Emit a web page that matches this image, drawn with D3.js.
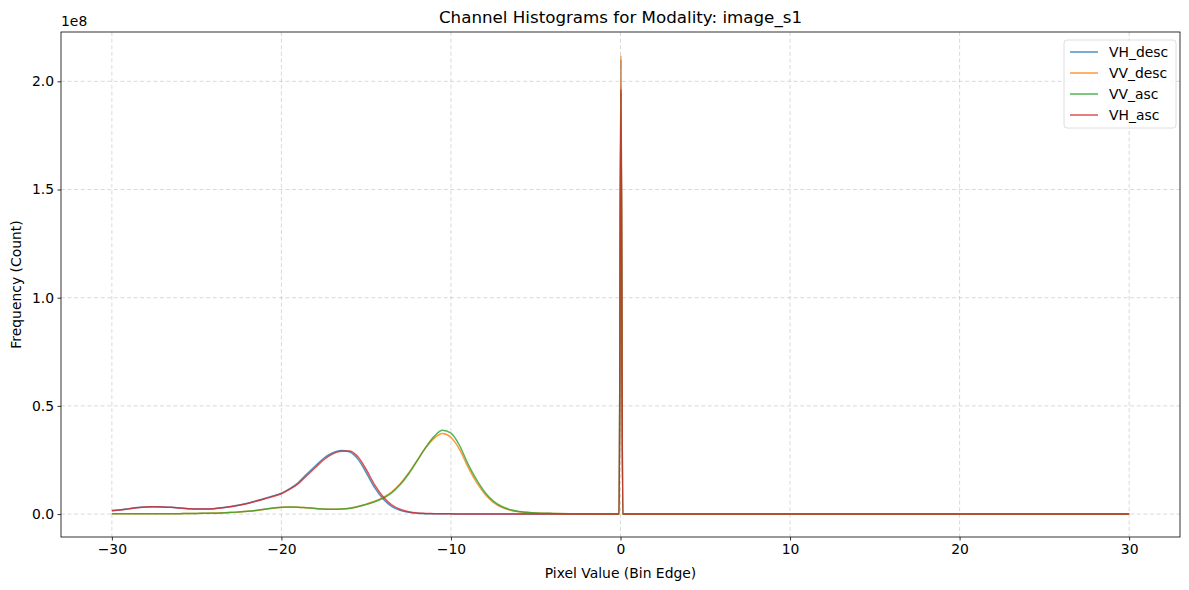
<!DOCTYPE html>
<html>
<head>
<meta charset="utf-8">
<script src="https://cdn.jsdelivr.net/npm/d3@7"></script>
<style>
  body { margin: 0; background: #fff; }
  svg { font-family: "DejaVu Sans", sans-serif; }
</style>
</head>
<body>
<div id="chart"></div>
<script>
// bin edges (pixel value) shared by all channels
const binEdges = [
  -30, -29.5, -29, -28.5, -28, -27.5, -27, -26.5, -26, -25.5,
  -25, -24.5, -24, -23.5, -23, -22.5, -22, -21.5, -21, -20.5,
  -20, -19.5, -19, -18.5, -18, -17.5, -17, -16.5, -16, -15.5,
  -15, -14.5, -14, -13.5, -13, -12.5, -12, -11.5, -11, -10.5,
  -10, -9.5, -9, -8.5, -8, -7.5, -7, -6.5, -6, -5.5,
  -5, -4, -3, -2, -1, -0.08, 0.025, 0.13, 1, 10, 20, 30
];

// counts in units of 1e8
const vhDesc = [
  0.016, 0.020, 0.025, 0.030, 0.033, 0.034, 0.033, 0.031, 0.028, 0.025,
  0.023, 0.023, 0.025, 0.029, 0.035, 0.042, 0.050, 0.061, 0.072, 0.084,
  0.097, 0.118, 0.146, 0.185, 0.222, 0.258, 0.282, 0.294, 0.288, 0.255,
  0.192, 0.122, 0.070, 0.036, 0.017, 0.008, 0.004, 0.002, 0.001, 0.001,
  0.001, 0.0005, 0.0005, 0.0003, 0.0003, 0.0002, 0.0002, 0.0001, 0.0001, 0.0001,
  0, 0, 0, 0, 0, 0, 2.10, 0, 0, 0, 0, 0
];
const vvDesc = [
  0.002, 0.002, 0.002, 0.002, 0.002, 0.002, 0.002, 0.002, 0.002, 0.003,
  0.003, 0.004, 0.005, 0.006, 0.008, 0.010, 0.013, 0.017, 0.022, 0.027,
  0.031, 0.033, 0.032, 0.029, 0.026, 0.023, 0.022, 0.023, 0.027, 0.035,
  0.046, 0.059, 0.077, 0.102, 0.140, 0.190, 0.248, 0.305, 0.350, 0.372,
  0.354, 0.300, 0.218, 0.148, 0.093, 0.054, 0.031, 0.018, 0.011, 0.007,
  0.005, 0.003, 0.002, 0.001, 0.0005, 0.0003, 2.12, 0, 0, 0, 0, 0
];
const vvAsc = [
  0.002, 0.002, 0.002, 0.002, 0.002, 0.002, 0.002, 0.002, 0.002, 0.003,
  0.003, 0.004, 0.004, 0.005, 0.007, 0.010, 0.013, 0.017, 0.022, 0.028,
  0.031, 0.033, 0.032, 0.029, 0.026, 0.023, 0.022, 0.023, 0.026, 0.034,
  0.044, 0.057, 0.073, 0.098, 0.135, 0.185, 0.245, 0.307, 0.358, 0.387,
  0.374, 0.318, 0.232, 0.160, 0.101, 0.060, 0.035, 0.020, 0.012, 0.008,
  0.005, 0.003, 0.002, 0.001, 0.0005, 0.0003, 1.95, 0, 0, 0, 0, 0
];
const vhAsc = [
  0.015, 0.019, 0.024, 0.029, 0.033, 0.034, 0.033, 0.031, 0.028, 0.025,
  0.023, 0.023, 0.025, 0.029, 0.034, 0.041, 0.049, 0.059, 0.070, 0.081,
  0.094, 0.115, 0.141, 0.178, 0.215, 0.251, 0.277, 0.290, 0.292, 0.266,
  0.206, 0.135, 0.080, 0.043, 0.022, 0.011, 0.005, 0.003, 0.002, 0.001,
  0.001, 0.0005, 0.0005, 0.0003, 0.0003, 0.0002, 0.0002, 0.0001, 0.0001, 0.0001,
  0, 0, 0, 0, 0, 0, 1.965, 0, 0, 0, 0, 0
];

const channelNames = ['VH_desc', 'VV_desc', 'VV_asc', 'VH_asc'];
const channelValues = [vhDesc, vvDesc, vvAsc, vhAsc];
const channelColors = ['#1f77b4', '#ff7f0e', '#2ca02c', '#d62728'];

const xTicks = [-30, -20, -10, 0, 10, 20, 30];
const yTicks = [0, 0.5, 1.0, 1.5, 2.0];

function createChart() {
    const W = 1189, H = 590;
    const margin = { top: 32, right: 9, bottom: 53, left: 61 };
    const width = W - margin.left - margin.right;
    const height = H - margin.top - margin.bottom;

    const svg = d3.select('#chart')
        .append('svg')
        .attr('width', W)
        .attr('height', H);

    const g = svg.append('g')
        .attr('transform', `translate(${margin.left}, ${margin.top})`);

    const xScale = d3.scaleLinear()
        .domain([-33, 33])
        .range([0, width]);

    const yScale = d3.scaleLinear()
        .domain([-0.106, 2.228])
        .range([height, 0]);

    // grid
    g.append('g').selectAll('line')
        .data(xTicks)
        .enter()
        .append('line')
        .attr('x1', d => xScale(d))
        .attr('x2', d => xScale(d))
        .attr('y1', 0)
        .attr('y2', height)
        .attr('stroke', '#b0b0b0')
        .attr('stroke-opacity', 0.6)
        .attr('stroke-width', 0.8)
        .attr('stroke-dasharray', '4,2.6');

    g.append('g').selectAll('line')
        .data(yTicks)
        .enter()
        .append('line')
        .attr('x1', 0)
        .attr('x2', width)
        .attr('y1', d => yScale(d))
        .attr('y2', d => yScale(d))
        .attr('stroke', '#b0b0b0')
        .attr('stroke-opacity', 0.6)
        .attr('stroke-width', 0.8)
        .attr('stroke-dasharray', '4,2.6');

    // lines
    const line = d3.line()
        .x(d => xScale(d[0]))
        .y(d => yScale(d[1]))
        .curve(d3.curveMonotoneX);

    channelValues.forEach((vals, i) => {
        const pts = binEdges.map((e, j) => [e, vals[j]]);
        g.append('path')
            .datum(pts)
            .attr('fill', 'none')
            .attr('stroke', channelColors[i])
            .attr('stroke-width', 1.5)
            .attr('stroke-opacity', 0.8)
            .attr('d', line);
    });

    // axes
    const xAxis = d3.axisBottom(xScale)
        .tickValues(xTicks)
        .tickSize(3.5)
        .tickPadding(3.5)
        .tickFormat(d => d < 0 ? '\u2212' + Math.abs(d) : d);
    const yAxis = d3.axisLeft(yScale)
        .tickValues(yTicks)
        .tickSize(3.5)
        .tickPadding(3.5)
        .tickFormat(d3.format('.1f'));

    const xg = g.append('g')
        .attr('transform', `translate(0, ${height})`)
        .call(xAxis);
    const yg = g.append('g').call(yAxis);

    [xg, yg].forEach(a => {
        a.select('.domain').remove();
        a.selectAll('text')
            .attr('font-size', '13.9px')
            .attr('font-family', '"DejaVu Sans", sans-serif')
            .attr('fill', '#000');
        a.selectAll('line').attr('stroke', '#000').attr('stroke-width', 0.8);
    });

    // frame
    g.append('rect')
        .attr('x', 0)
        .attr('y', 0)
        .attr('width', width)
        .attr('height', height)
        .attr('fill', 'none')
        .attr('stroke', '#000')
        .attr('stroke-width', 0.8);

    // labels
    svg.append('text')
        .attr('x', margin.left + width / 2)
        .attr('y', 23)
        .attr('text-anchor', 'middle')
        .attr('font-size', '16.7px')
        .text('Channel Histograms for Modality: image_s1');

    svg.append('text')
        .attr('x', margin.left + width / 2)
        .attr('y', 578)
        .attr('text-anchor', 'middle')
        .attr('font-size', '13.9px')
        .text('Pixel Value (Bin Edge)');

    svg.append('text')
        .attr('transform', 'rotate(-90)')
        .attr('x', -(margin.top + height / 2))
        .attr('y', 21)
        .attr('text-anchor', 'middle')
        .attr('font-size', '13.9px')
        .text('Frequency (Count)');

    svg.append('text')
        .attr('x', margin.left)
        .attr('y', 26)
        .attr('font-size', '13.9px')
        .text('1e8');

    // legend
    const lg = svg.append('g')
        .attr('transform', `translate(${margin.left + width - 116}, 40)`);
    lg.append('rect')
        .attr('width', 112)
        .attr('height', 88)
        .attr('rx', 3)
        .attr('fill', '#fff')
        .attr('fill-opacity', 0.8)
        .attr('stroke', '#d6d6d6')
        .attr('stroke-width', 0.8);
    channelNames.forEach((name, i) => {
        const y = 12 + i * 21;
        lg.append('line')
            .attr('x1', 6)
            .attr('x2', 34)
            .attr('y1', y)
            .attr('y2', y)
            .attr('stroke', channelColors[i])
            .attr('stroke-opacity', 0.8)
            .attr('stroke-width', 1.5);
        lg.append('text')
            .attr('x', 45)
            .attr('y', y + 5)
            .attr('font-size', '13.9px')
            .text(name);
    });
}

createChart();
</script>
</body>
</html>
